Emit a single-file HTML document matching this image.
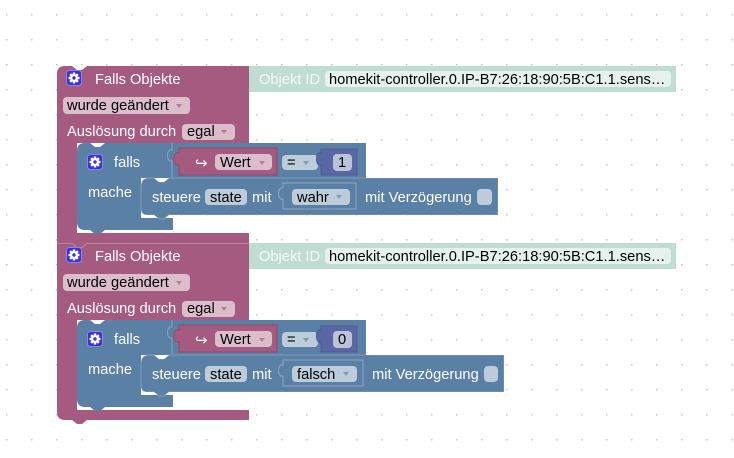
<!DOCTYPE html>
<html><head><meta charset="utf-8"><style>
html,body{margin:0;padding:0;background:#fff;}
svg{display:block;}
text{font-family:"Liberation Sans",Arial,sans-serif;font-size:14.67px;}
.w{fill:#fff;}
.k{fill:#000;}
</style></head><body>
<svg width="734" height="458" viewBox="0 0 734 458" xmlns="http://www.w3.org/2000/svg">
<defs>
<pattern id="grid" x="0" y="0" width="25" height="25" patternUnits="userSpaceOnUse">
<rect x="6" y="14" width="1.5" height="1.5" fill="#c4c4c4"/>
</pattern>
</defs>
<rect width="734" height="458" fill="#fff"/>
<rect width="734" height="458" fill="url(#grid)"/>

<!-- ================= BLOCK 1 ================= -->
<g>
<!-- mint object id -->
<path d="M249,66 H676 V92 H249 V86 C241,89 241,69 249,72 Z" fill="#c0ddd3"/>
<text x="259" y="84" fill="#f4faf8">Objekt ID</text>
<rect x="325" y="71" width="346" height="16" rx="4" fill="#e7f2ee"/>
<text x="329" y="84" class="k">homekit-controller.0.IP-B7:26:18:90:5B:C1.1.sens…</text>

<!-- pink outer -->
<path d="M57,74 Q57,66 65,66 H72 L77,70 H82 L87,66 H249 V143 H77 V233 H249 V243 H57 Z" fill="#a55b80"/>
<!-- gear icon -->
<rect x="66.5" y="70.5" width="15" height="15" rx="3" fill="#3b32cf" stroke="#8a86e6" stroke-width="1"/>
<g transform="translate(74,78)" fill="#fff">
<circle r="4"/>
<rect x="-1.2" y="-5.5" width="2.4" height="11"/>
<rect x="-1.2" y="-5.5" width="2.4" height="11" transform="rotate(45)"/>
<rect x="-1.2" y="-5.5" width="2.4" height="11" transform="rotate(90)"/>
<rect x="-1.2" y="-5.5" width="2.4" height="11" transform="rotate(135)"/>
<circle r="1.7" fill="#3b32cf"/>
</g>
<text x="95" y="84" class="w">Falls Objekte</text>
<rect x="63" y="97" width="127" height="17" rx="4" fill="#dbbdcc"/>
<text x="67" y="110" class="k">wurde geändert</text>
<polygon points="176,104 182,104 179,108" fill="#b57d99"/>
<text x="67" y="136" class="w">Auslösung durch</text>
<rect x="182" y="124" width="53" height="16" rx="4" fill="#dbbdcc"/>
<text x="187" y="136" class="k">egal</text>
<polygon points="221,130 227,130 224,134" fill="#b57d99"/>

<!-- blue if block -->
<path d="M77,151 Q77,143 85,143 H90 L95,147 H100 L105,143 H366 V178 H141 V218 H173 V230 H105 L100,234 H95 L90,230 H85 Q77,230 77,222 Z" fill="#5b80a5"/>
<path d="M172,143 V150 C166,148 166,163 172,161 V177" fill="none" stroke="rgba(255,255,255,0.28)" stroke-width="1"/>
<rect x="87.5" y="154.5" width="15" height="15" rx="3" fill="#3b32cf" stroke="#8a86e6" stroke-width="1"/>
<g transform="translate(95,162)" fill="#fff">
<circle r="4"/>
<rect x="-1.2" y="-5.5" width="2.4" height="11"/>
<rect x="-1.2" y="-5.5" width="2.4" height="11" transform="rotate(45)"/>
<rect x="-1.2" y="-5.5" width="2.4" height="11" transform="rotate(90)"/>
<rect x="-1.2" y="-5.5" width="2.4" height="11" transform="rotate(135)"/>
<circle r="1.7" fill="#3b32cf"/>
</g>
<text x="114" y="167" class="w">falls</text>
<text x="88" y="197" class="w">mache</text>

<!-- Wert block -->
<path d="M179,148 H277 V175 H179 V165 C172,168 172,150 179,153 Z" fill="#a55b80" stroke="#94496e" stroke-width="1"/>
<text x="195" y="168" class="w" style="font-family:'DejaVu Sans',sans-serif;font-size:15px">↪</text>
<rect x="215" y="154" width="57" height="16" rx="4" fill="#dbbdcc"/>
<text x="220" y="167" class="k">Wert</text>
<polygon points="259,161 265,161 262,165" fill="#b57d99"/>
<!-- = -->
<rect x="282" y="155" width="36" height="15" rx="4" fill="#bdccdb"/>
<text x="287" y="167" class="k">=</text>
<polygon points="303,161 309,161 306,165" fill="#7f9cb9"/>
<!-- number -->
<path d="M321,149 H357 V175 H321 V165 C315,168 315,150 321,153 Z" fill="#5b67a5" stroke="#4f5b98" stroke-width="1"/>
<rect x="333" y="154" width="19" height="17" rx="4" fill="#bdc2db"/>
<text x="338" y="167" class="k">1</text>

<!-- steuere block -->
<path d="M141,186 Q141,178 149,178 H154 L159,182 H164 L169,178 H498 V215 H169 L164,219 H159 L154,215 H147 Q141,215 141,209 Z" fill="#5b80a5" stroke="rgba(255,255,255,0.22)" stroke-width="1"/>
<text x="152" y="202" class="w">steuere</text>
<rect x="205" y="189" width="42" height="16" rx="4" fill="#bdccdb"/>
<text x="210" y="202" class="k">state</text>
<text x="252" y="202" class="w">mit</text>
<path d="M283,183 H356 V209 H283 V199 C277,201 277,186 283,188 Z" fill="none" stroke="rgba(255,255,255,0.3)" stroke-width="1"/>
<rect x="292" y="189" width="58" height="16" rx="4" fill="#bdccdb"/>
<text x="297" y="202" class="k">wahr</text>
<polygon points="336,195 342,195 339,199" fill="#7f9cb9"/>
<text x="365" y="202" class="w">mit Verzögerung</text>
<rect x="477" y="189" width="15" height="16" rx="4" fill="#bdccdb"/>
</g>

<!-- ================= BLOCK 2 ================= -->
<g transform="translate(0,177)">
<path d="M249,66 H676 V92 H249 V86 C241,89 241,69 249,72 Z" fill="#c0ddd3"/>
<text x="259" y="84" fill="#f4faf8">Objekt ID</text>
<rect x="325" y="71" width="346" height="16" rx="4" fill="#e7f2ee"/>
<text x="329" y="84" class="k">homekit-controller.0.IP-B7:26:18:90:5B:C1.1.sens…</text>

<path d="M57,66 H249 V143 H77 V233 H249 V243 H87 L82,247 H77 L72,243 H65 Q57,243 57,235 Z" fill="#a55b80"/>
<path d="M57,66.5 H72 L77,70.5 H82 L87,66.5 H249" fill="none" stroke="rgba(255,255,255,0.25)" stroke-width="1"/>
<rect x="66.5" y="70.5" width="15" height="15" rx="3" fill="#3b32cf" stroke="#8a86e6" stroke-width="1"/>
<g transform="translate(74,78)" fill="#fff">
<circle r="4"/>
<rect x="-1.2" y="-5.5" width="2.4" height="11"/>
<rect x="-1.2" y="-5.5" width="2.4" height="11" transform="rotate(45)"/>
<rect x="-1.2" y="-5.5" width="2.4" height="11" transform="rotate(90)"/>
<rect x="-1.2" y="-5.5" width="2.4" height="11" transform="rotate(135)"/>
<circle r="1.7" fill="#3b32cf"/>
</g>
<text x="95" y="84" class="w">Falls Objekte</text>
<rect x="63" y="97" width="127" height="17" rx="4" fill="#dbbdcc"/>
<text x="67" y="110" class="k">wurde geändert</text>
<polygon points="176,104 182,104 179,108" fill="#b57d99"/>
<text x="67" y="136" class="w">Auslösung durch</text>
<rect x="182" y="124" width="53" height="16" rx="4" fill="#dbbdcc"/>
<text x="187" y="136" class="k">egal</text>
<polygon points="221,130 227,130 224,134" fill="#b57d99"/>

<path d="M77,151 Q77,143 85,143 H90 L95,147 H100 L105,143 H366 V178 H141 V218 H173 V230 H105 L100,234 H95 L90,230 H85 Q77,230 77,222 Z" fill="#5b80a5"/>
<path d="M172,143 V150 C166,148 166,163 172,161 V177" fill="none" stroke="rgba(255,255,255,0.28)" stroke-width="1"/>
<rect x="87.5" y="154.5" width="15" height="15" rx="3" fill="#3b32cf" stroke="#8a86e6" stroke-width="1"/>
<g transform="translate(95,162)" fill="#fff">
<circle r="4"/>
<rect x="-1.2" y="-5.5" width="2.4" height="11"/>
<rect x="-1.2" y="-5.5" width="2.4" height="11" transform="rotate(45)"/>
<rect x="-1.2" y="-5.5" width="2.4" height="11" transform="rotate(90)"/>
<rect x="-1.2" y="-5.5" width="2.4" height="11" transform="rotate(135)"/>
<circle r="1.7" fill="#3b32cf"/>
</g>
<text x="114" y="167" class="w">falls</text>
<text x="88" y="197" class="w">mache</text>

<path d="M179,148 H277 V175 H179 V165 C172,168 172,150 179,153 Z" fill="#a55b80" stroke="#94496e" stroke-width="1"/>
<text x="195" y="168" class="w" style="font-family:'DejaVu Sans',sans-serif;font-size:15px">↪</text>
<rect x="215" y="154" width="57" height="16" rx="4" fill="#dbbdcc"/>
<text x="220" y="167" class="k">Wert</text>
<polygon points="259,161 265,161 262,165" fill="#b57d99"/>
<rect x="282" y="155" width="36" height="15" rx="4" fill="#bdccdb"/>
<text x="287" y="167" class="k">=</text>
<polygon points="303,161 309,161 306,165" fill="#7f9cb9"/>
<path d="M321,149 H357 V175 H321 V165 C315,168 315,150 321,153 Z" fill="#5b67a5" stroke="#4f5b98" stroke-width="1"/>
<rect x="333" y="154" width="19" height="17" rx="4" fill="#bdc2db"/>
<text x="338" y="167" class="k">0</text>

<path d="M141,186 Q141,178 149,178 H154 L159,182 H164 L169,178 H504 V215 H169 L164,219 H159 L154,215 H147 Q141,215 141,209 Z" fill="#5b80a5" stroke="rgba(255,255,255,0.22)" stroke-width="1"/>
<text x="152" y="202" class="w">steuere</text>
<rect x="205" y="189" width="42" height="16" rx="4" fill="#bdccdb"/>
<text x="210" y="202" class="k">state</text>
<text x="252" y="202" class="w">mit</text>
<path d="M283,183 H363 V209 H283 V199 C277,201 277,186 283,188 Z" fill="none" stroke="rgba(255,255,255,0.3)" stroke-width="1"/>
<rect x="292" y="189" width="65" height="16" rx="4" fill="#bdccdb"/>
<text x="297" y="202" class="k">falsch</text>
<polygon points="343,195 349,195 346,199" fill="#7f9cb9"/>
<text x="372" y="202" class="w">mit Verzögerung</text>
<rect x="484" y="189" width="14" height="16" rx="4" fill="#bdccdb"/>
</g>
</svg>
</body></html>
